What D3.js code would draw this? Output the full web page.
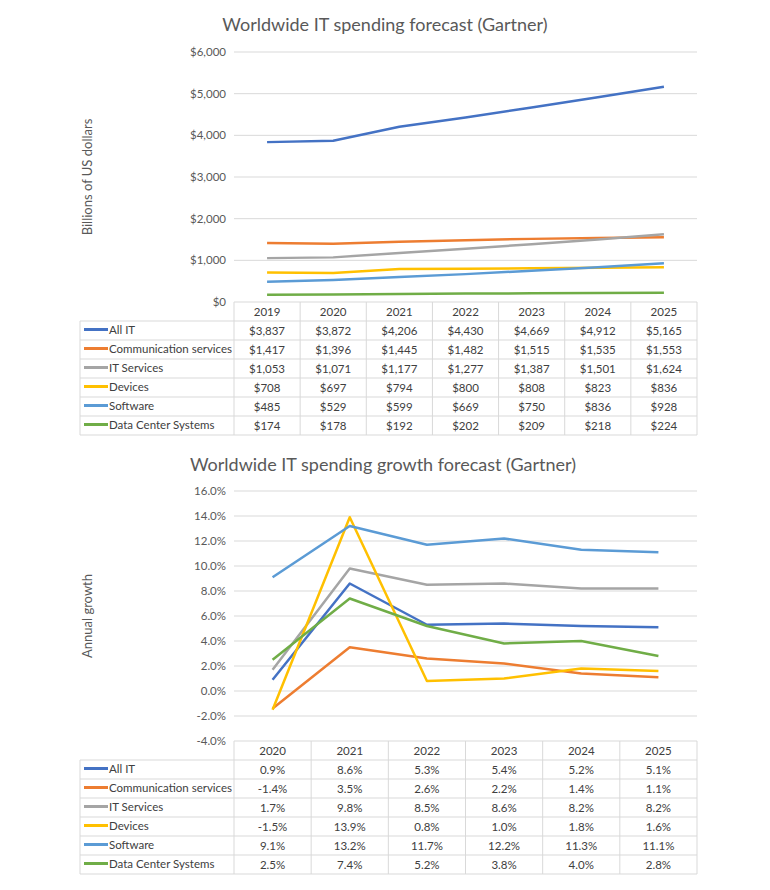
<!DOCTYPE html>
<html>
<head>
<meta charset="utf-8">
<script src="https://cdn.jsdelivr.net/npm/d3@7"></script>
<style>
  body { margin: 0; background: #ffffff; }
  text { font-family: Lato, "Noto Sans", sans-serif; }
</style>
</head>
<body>
<script>
// series names and colours (Excel default palette)
var seriesNames = ["All IT", "Communication services", "IT Services", "Devices", "Software", "Data Center Systems"];
var seriesColors = ["#4472C4", "#ED7D31", "#A5A5A5", "#FFC000", "#5B9BD5", "#70AD47"];

// spending, billions of US dollars
var spendYears = ["2019", "2020", "2021", "2022", "2023", "2024", "2025"];
var allIT = [3837, 3872, 4206, 4430, 4669, 4912, 5165];
var commServices = [1417, 1396, 1445, 1482, 1515, 1535, 1553];
var itServices = [1053, 1071, 1177, 1277, 1387, 1501, 1624];
var devices = [708, 697, 794, 800, 808, 823, 836];
var software = [485, 529, 599, 669, 750, 836, 928];
var dataCenter = [174, 178, 192, 202, 209, 218, 224];
var spendTicks = [0, 1000, 2000, 3000, 4000, 5000, 6000];

// annual growth, percent
var growthYears = ["2020", "2021", "2022", "2023", "2024", "2025"];
var allITGrowth = [0.9, 8.6, 5.3, 5.4, 5.2, 5.1];
var commGrowth = [-1.4, 3.5, 2.6, 2.2, 1.4, 1.1];
var itServicesGrowth = [1.7, 9.8, 8.5, 8.6, 8.2, 8.2];
var devicesGrowth = [-1.5, 13.9, 0.8, 1.0, 1.8, 1.6];
var softwareGrowth = [9.1, 13.2, 11.7, 12.2, 11.3, 11.1];
var dataCenterGrowth = [2.5, 7.4, 5.2, 3.8, 4.0, 2.8];
var growthTicks = [-4, -2, 0, 2, 4, 6, 8, 10, 12, 14, 16];

var svg = d3.select("body").append("svg").attr("width", 770).attr("height", 890);

//draws one line chart with its data table underneath
function drawChart(opt) {
  var g = svg.append("g");
  var x = d3.scaleBand().domain(opt.years).range([opt.left, opt.right]);
  var y = d3.scaleLinear().domain(opt.domain).range([opt.bottom, opt.top]);
  var rowH = 19;

  g.append("text").attr("x", opt.titleX).attr("y", opt.titleY)
    .attr("text-anchor", "middle").attr("font-size", 18).attr("fill", "#595959")
    .text(opt.title);

  g.append("text")
    .attr("transform", "translate(" + 92 + "," + ((opt.top + opt.bottom) / 2) + ") rotate(-90)")
    .attr("text-anchor", "middle").attr("font-size", 13).attr("fill", "#595959")
    .text(opt.yLabel);

  // gridlines
  g.selectAll(".grid").data(opt.ticks.filter(function(t){ return t != opt.domain[0]; }))
    .enter().append("line")
    .attr("x1", opt.left).attr("x2", opt.right)
    .attr("y1", function(d){ return y(d); }).attr("y2", function(d){ return y(d); })
    .attr("stroke", "#d9d9d9").attr("stroke-width", 1);

  g.selectAll(".tick").data(opt.ticks).enter().append("text")
    .attr("x", opt.left - 8).attr("y", function(d){ return y(d) + 4; })
    .attr("text-anchor", "end").attr("font-size", 11.5).attr("fill", "#595959")
    .text(opt.tickFormat);

  // lines
  var line = d3.line()
    .x(function(d, i){ return x(opt.years[i]) + x.bandwidth() / 2; })
    .y(function(d){ return y(d); });
  opt.series.forEach(function(s, k){
    g.append("path").attr("d", line(s))
      .attr("fill", "none").attr("stroke", seriesColors[k])
      .attr("stroke-width", 2.5).attr("stroke-linejoin", "round");
  });

  // data table
  var tTop = opt.bottom;
  var tLeft = 80;
  var nRows = opt.series.length;
  var border = "#d9d9d9";
  // header cells
  g.append("line").attr("x1", opt.left).attr("x2", opt.right).attr("y1", tTop).attr("y2", tTop).attr("stroke", border);
  g.selectAll(".vl").data(opt.years.concat(["end"])).enter().append("line")
    .attr("x1", function(d, i){ return opt.left + i * x.bandwidth(); })
    .attr("x2", function(d, i){ return opt.left + i * x.bandwidth(); })
    .attr("y1", tTop).attr("y2", tTop + rowH * (nRows + 1))
    .attr("stroke", border);
  g.append("line").attr("x1", tLeft).attr("x2", tLeft)
    .attr("y1", tTop + rowH).attr("y2", tTop + rowH * (nRows + 1)).attr("stroke", border);
  for (var r = 1; r <= nRows + 1; r++) {
    g.append("line").attr("x1", tLeft).attr("x2", opt.right)
      .attr("y1", tTop + rowH * r).attr("y2", tTop + rowH * r).attr("stroke", border);
  }
  g.selectAll(".yr").data(opt.years).enter().append("text")
    .attr("x", function(d){ return x(d) + x.bandwidth() / 2; })
    .attr("y", tTop + rowH / 2 + 4)
    .attr("text-anchor", "middle").attr("font-size", 11.5).attr("fill", "#404040")
    .text(function(d){ return d; });

  opt.series.forEach(function(s, k){
    var cy = tTop + rowH * (k + 1) + rowH / 2;
    g.append("line").attr("x1", tLeft + 4).attr("x2", tLeft + 28)
      .attr("y1", cy - 1).attr("y2", cy - 1)
      .attr("stroke", seriesColors[k]).attr("stroke-width", 3);
    g.append("text").attr("x", tLeft + 29).attr("y", cy + 3)
      .attr("font-size", 11.5).attr("fill", "#404040").text(seriesNames[k]);
    g.selectAll(".v" + k).data(s).enter().append("text")
      .attr("x", function(d, i){ return x(opt.years[i]) + x.bandwidth() / 2; })
      .attr("y", cy + 4)
      .attr("text-anchor", "middle").attr("font-size", 11.5).attr("fill", "#404040")
      .text(opt.cellFormat);
  });
}

drawChart({
  title: "Worldwide IT spending forecast (Gartner)", titleX: 385, titleY: 31,
  yLabel: "Billions of US dollars",
  years: spendYears, domain: [0, 6000], ticks: spendTicks,
  top: 52, bottom: 302, left: 234, right: 697,
  series: [allIT, commServices, itServices, devices, software, dataCenter],
  tickFormat: function(d){ return "$" + d3.format(",")(d); },
  cellFormat: function(d){ return "$" + d3.format(",")(d); }
});

drawChart({
  title: "Worldwide IT spending growth forecast (Gartner)", titleX: 383, titleY: 471,
  yLabel: "Annual growth",
  years: growthYears, domain: [-4, 16], ticks: growthTicks,
  top: 491, bottom: 741, left: 234, right: 697,
  series: [allITGrowth, commGrowth, itServicesGrowth, devicesGrowth, softwareGrowth, dataCenterGrowth],
  tickFormat: function(d){ return d.toFixed(1) + "%"; },
  cellFormat: function(d){ return d.toFixed(1) + "%"; }
});
</script>
</body>
</html>
